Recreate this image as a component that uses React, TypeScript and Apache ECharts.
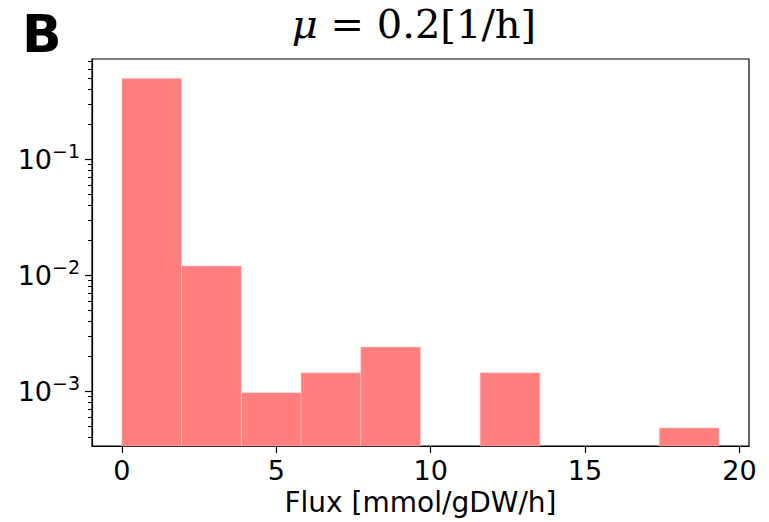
import React, { useEffect, useRef } from "react";
import * as echarts from "echarts";

// Histogram bins (left edge, right edge) and probability density per bin
const binStarts = [0, 1.934, 3.868, 5.802, 7.736, 9.67, 11.604, 13.538, 15.472, 17.406];
const binEnds = [1.934, 3.868, 5.802, 7.736, 9.67, 11.604, 13.538, 15.472, 17.406, 19.34];
const densities = [0.498, 0.012, 0.00097, 0.00144, 0.0024, 0, 0.00144, 0, 0, 0.00048];

const xTicks = [0, 5, 10, 15, 20];
const yTicks = [0.001, 0.01, 0.1];
const xMin = -0.967;
const xMax = 20.31;
const yMin = 0.000336;
const yMax = 0.733;

const titleText = "0.2[1/h]";
const panelLetter = "B";
const xAxisName = "Flux [mmol/gDW/h]";

const BAR_COLOR = "#FF7F7F";

function minorTicks(): number[] {
  const out: number[] = [];
  for (let e = -4; e <= 0; e++) {
    for (let m = 2; m <= 9; m++) {
      const v = m * Math.pow(10, e);
      if (v > yMin && v < yMax) out.push(v);
    }
  }
  return out;
}

export default function App() {
  const ref = useRef<HTMLDivElement>(null);
  useEffect(() => {
    if (!ref.current) return;
    const chart = echarts.init(ref.current, null, { renderer: "svg" });
    const data = binStarts
      .map((s, i) => [s, binEnds[i], densities[i]])
      .filter((d) => d[2] > 0);
    const tickFont = "DejaVu Sans";
    chart.setOption({
      animation: false,
      backgroundColor: "#fff",
      grid: {
        left: 92,
        right: 20,
        top: 59,
        bottom: 76,
        show: true,
        borderColor: "#000",
        borderWidth: 1.2,
        backgroundColor: "transparent",
      },
      xAxis: {
        type: "value",
        min: xMin,
        max: xMax,
        name: xAxisName,
        nameLocation: "middle",
        nameGap: 41,
        nameTextStyle: { fontFamily: tickFont, fontSize: 28, color: "#000" },
        splitLine: { show: false },
        axisLine: { show: true, onZero: false, lineStyle: { color: "#000", width: 1.2 } },
        axisTick: { show: true, length: 7, customValues: xTicks, lineStyle: { color: "#000", width: 1.2 } },
        axisLabel: {
          customValues: xTicks,
          fontFamily: tickFont,
          fontSize: 27,
          color: "#000",
          margin: 11,
          formatter: (v: number) => String(v),
        },
      },
      yAxis: [
        {
          type: "log",
          logBase: 10,
          min: yMin,
          max: yMax,
          splitLine: { show: false },
          axisLine: { show: true, onZero: false, lineStyle: { color: "#000", width: 1.2 } },
          axisTick: { show: true, length: 7, customValues: yTicks, lineStyle: { color: "#000", width: 1.2 } },
          axisLabel: {
            customValues: yTicks,
            margin: 12,
            formatter: (v: number) => {
              const e = Math.round(Math.log10(v));
              return "{b|10}{s|\u2212" + String(-e) + "}";
            },
            rich: {
              b: { fontFamily: tickFont, fontSize: 27, color: "#000", lineHeight: 36 },
              s: { fontFamily: tickFont, fontSize: 19, color: "#000", verticalAlign: "top", lineHeight: 20 },
            },
          },
        },
        {
          type: "log",
          logBase: 10,
          min: yMin,
          max: yMax,
          position: "left",
          splitLine: { show: false },
          axisLine: { show: false, onZero: false },
          axisLabel: { show: false },
          axisTick: { show: true, length: 4, customValues: minorTicks(), lineStyle: { color: "#000", width: 1 } },
        },
      ],
      series: [
        {
          type: "custom",
          xAxisIndex: 0,
          yAxisIndex: 0,
          encode: { x: [0, 1], y: 2 },
          data,
          renderItem: (params: any, api: any) => {
            const x0 = api.value(0);
            const x1 = api.value(1);
            const v = api.value(2);
            const p0 = api.coord([x0, v]);
            const p1 = api.coord([x1, yMin]);
            return {
              type: "rect",
              shape: { x: p0[0], y: p0[1], width: p1[0] - p0[0], height: p1[1] - p0[1] },
              style: { fill: BAR_COLOR, stroke: "rgba(255,200,200,0.8)", lineWidth: 0.6 },
            };
          },
        },
      ],
      graphic: [
        {
          type: "text",
          left: 22,
          top: 8,
          style: {
            text: panelLetter,
            fontFamily: "DejaVu Sans",
            fontWeight: "bold",
            fontSize: 52,
            fill: "#000",
          },
        },
        {
          type: "text",
          x: 414,
          y: 24,
          style: {
            text: "{i|\u03bc}{r| = " + titleText + "}",
            align: "center",
            verticalAlign: "middle",
            rich: {
              i: { fontFamily: "DejaVu Serif", fontStyle: "italic", fontSize: 40, fill: "#000" },
              r: { fontFamily: "DejaVu Serif", fontSize: 40, fill: "#000" },
            },
          },
        },
      ],
    });
    return () => chart.dispose();
  }, []);
  return (
    <div
      ref={ref}
      style={{ position: "absolute", left: 0, top: 0, width: 769, height: 522 }}
    />
  );
}
